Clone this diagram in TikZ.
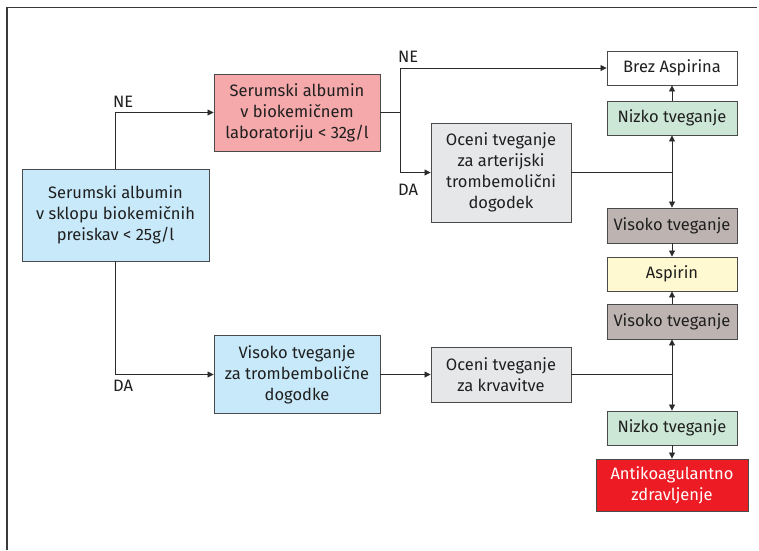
\documentclass[tikz,border=0pt]{standalone}
\usepackage{fontspec}
\setmainfont{Fira Sans}
\usetikzlibrary{arrows.meta}
\definecolor{frameline}{HTML}{3A3A3A}
\definecolor{edgecol}{HTML}{2B2B2B}
\definecolor{boxline}{HTML}{4A4A4A}
\definecolor{albblue}{HTML}{C8E9F9}
\definecolor{labpink}{HTML}{F5A9AB}
\definecolor{assgray}{HTML}{E6E7E8}
\definecolor{lowgreen}{HTML}{CCE7D6}
\definecolor{highbrown}{HTML}{BDB4B2}
\definecolor{aspyellow}{HTML}{FFF9D1}
\definecolor{antired}{HTML}{ED1C24}
\tikzset{
  x=1pt, y=-1pt,
  txt/.style={font=\fontsize{16.5}{21}\selectfont, text=black!88},
  flowbox/.style={draw=boxline, line width=0.9pt, align=center, txt,
    inner sep=0pt, anchor=center},
  conn/.style={draw=edgecol, line width=0.8pt},
  arr/.style={conn, -{Triangle[length=6pt,width=6pt]}},
  lbl/.style={txt, inner sep=0pt, anchor=west}
}
\begin{document}
\begin{tikzpicture}
\useasboundingbox (0,0) rectangle (759,550);
% frame (top and left sides only)
\draw[frameline, line width=1.4pt] (7,550) -- (7,7.5) -- (757,7.5);

% boxes
\node[flowbox, fill=albblue, minimum width=187pt, minimum height=92pt] (alb) at (115.5,215)
  {Serumski albumin\\v sklopu biokemičnih\\preiskav < 25g/l};
\node[flowbox, fill=labpink, minimum width=166pt, minimum height=77pt] (lab) at (297,112.5)
  {Serumski albumin\\v biokemičnem\\laboratoriju < 32g/l};
\node[flowbox, fill=albblue, minimum width=166pt, minimum height=78pt] (tromb) at (297,374.5)
  {Visoko tveganje\\za trombembolične\\dogodke};
\node[flowbox, fill=assgray, minimum width=140pt, minimum height=99pt] (art) at (501,172.5)
  {Oceni tveganje\\za arterijski\\trombemolični\\dogodek};
\node[flowbox, fill=assgray, minimum width=140pt, minimum height=55pt] (krv) at (501,374.5)
  {Oceni tveganje\\za krvavitve};
\node[flowbox, fill=white, minimum width=130pt, minimum height=34pt] (brez) at (672,68)
  {Brez Aspirina};
\node[flowbox, fill=lowgreen, minimum width=130pt, minimum height=34pt] (nizA) at (672,118)
  {Nizko tveganje};
\node[flowbox, fill=highbrown, minimum width=130pt, minimum height=35pt] (visA) at (672,225.5)
  {Visoko tveganje};
\node[flowbox, fill=aspyellow, minimum width=130pt, minimum height=34pt] (asp) at (672,274)
  {Aspirin};
\node[flowbox, fill=highbrown, minimum width=130pt, minimum height=35pt] (visB) at (672,321.5)
  {Visoko tveganje};
\node[flowbox, fill=lowgreen, minimum width=130pt, minimum height=34pt] (nizB) at (672,428)
  {Nizko tveganje};
\node[flowbox, fill=antired, text=white, minimum width=152pt, minimum height=52pt] (anti) at (672,485)
  {Antikoagulantno\\zdravljenje};

% branch points
\coordinate (splitA) at (400,112.5);
\coordinate (jArt) at (672,172.5);
\coordinate (jKrv) at (672,374.5);

% connectors
\draw[arr] (alb.north) |- (lab.west);
\draw[arr] (alb.south) |- (tromb.west);
\draw[conn] (lab.east) -- (splitA);
\draw[arr] (splitA) |- (brez.west);
\draw[arr] (splitA) |- (art.west);
\draw[arr] (tromb.east) -- (krv.west);

\draw[conn] (art.east) -- (jArt);
\draw[arr] (jArt) -- (nizA.south);
\draw[arr] (jArt) -- (visA.north);
\draw[arr] (nizA.north) -- (brez.south);
\draw[arr] (visA.south) -- (asp.north);
\draw[arr] (visB.north) -- (asp.south);

\draw[conn] (krv.east) -- (jKrv);
\draw[arr] (jKrv) -- (visB.south);
\draw[arr] (jKrv) -- (nizB.north);
\draw[arr] (nizB.south) -- (anti.north);

% branch labels
\node[lbl] (neA) at (113,102) {NE};
\node[lbl] (daA) at (113,385.5) {DA};
\node[lbl] (neB) at (398,57) {NE};
\node[lbl] (daB) at (398,190) {DA};
\end{tikzpicture}
\end{document}
